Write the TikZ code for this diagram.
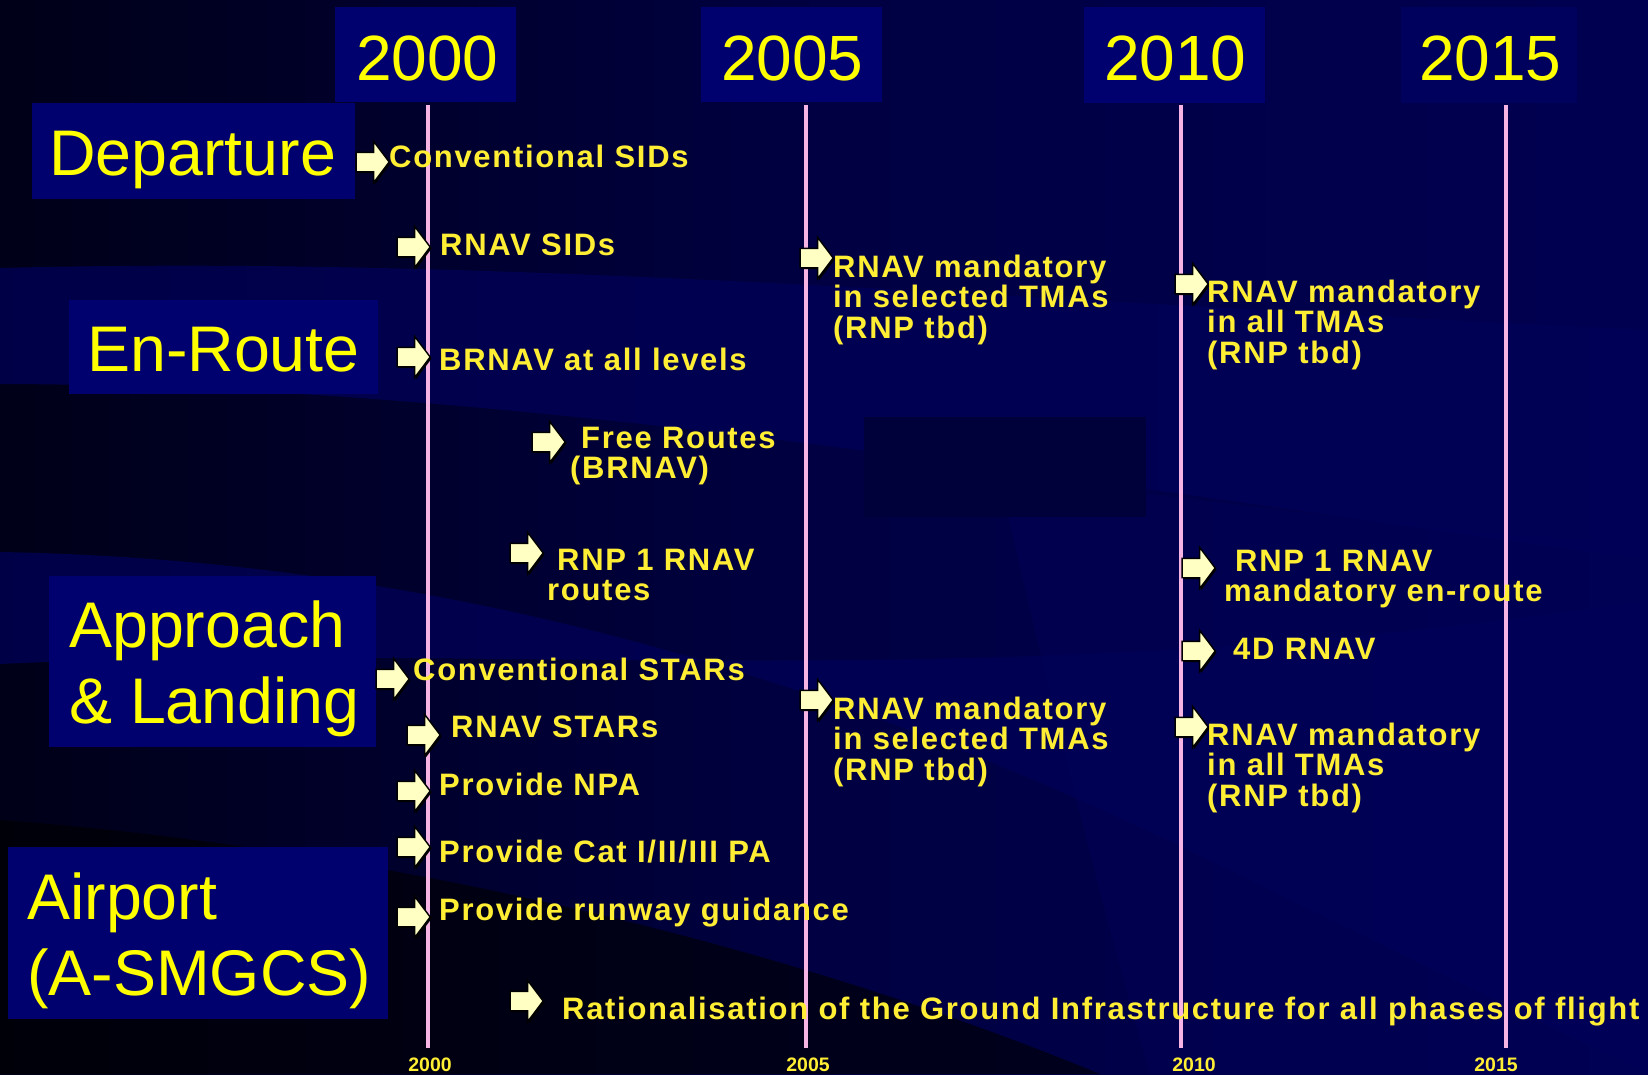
\documentclass[tikz,border=0pt]{standalone}
\usepackage{fontspec}
\setmainfont{Liberation Sans}
\newfontfamily\itemfont[LetterSpace=5.5]{Liberation Sans}
\usetikzlibrary{shapes.arrows,shadows}
\definecolor{boxnavy}{RGB}{0,0,110}
\definecolor{bandnavy}{RGB}{0,0,88}
\definecolor{darkrect}{RGB}{0,0,58}
\definecolor{itemyellow}{RGB}{255,238,51}
\definecolor{titleyellow}{RGB}{255,255,0}
\definecolor{linepink}{RGB}{245,180,228}
\definecolor{arrowfill}{RGB}{255,255,196}
\pgfdeclarehorizontalshading{bgshade}{100bp}{rgb(0bp)=(0,0,0.03); rgb(20bp)=(0,0,0.06); rgb(50bp)=(0,0,0.26); rgb(100bp)=(0,0,0.38)}
\newcommand{\mline}[1]{\vtop{\halign{##\hfil\cr#1\crcr}}}
\begin{document}
\begin{tikzpicture}[x=1pt,y=-1pt,
  catbox/.style={fill=boxnavy,draw=none,inner sep=0pt,anchor=north west},
  cattext/.style={text=titleyellow,font=\fontsize{64.5}{76}\selectfont,anchor=base west,inner sep=0pt},
  yeartext/.style={text=titleyellow,font=\fontsize{64}{70}\selectfont,anchor=base west,inner sep=0pt},
  smallyear/.style={text=itemyellow,font=\bfseries\fontsize{19.5}{20}\selectfont,anchor=base,inner sep=0pt},
  itemtext/.style={text=itemyellow,font=\itemfont\bfseries\fontsize{31}{30.5}\selectfont,anchor=base west,inner sep=0pt},
  itemarrow/.style={single arrow,draw=black,line width=1.4pt,fill=arrowfill,
     text height=18pt,text depth=0pt,text width=0pt,
     minimum height=33pt,single arrow head extend=11pt,
     single arrow tip angle=106,inner sep=0pt,
     drop shadow={shadow xshift=1.5pt,shadow yshift=-1.5pt,fill=black,opacity=1}},
  yearline/.style={draw=linepink,line width=3.5pt}]
\useasboundingbox (0,0) rectangle (1648,1074);
% background
\shade[shading=bgshade] (0,0) rectangle (1648,1074);
\fill[bandnavy,opacity=0.75] (0,268) .. controls (500,255) and (1000,300) .. (1648,330)
   -- (1648,560) .. controls (1000,470) and (500,385) .. (0,384) -- cycle;
\fill[bandnavy,opacity=0.75] (0,552) .. controls (450,560) and (850,680) .. (1250,880)
   -- (1648,1074) -- (1648,600) .. controls (1000,700) and (500,640) .. (0,664) -- cycle;
\fill[bandnavy,opacity=0.45] (1000,480) .. controls (1250,500) and (1450,540) .. (1648,540) -- (1648,1074) -- (1150,1074) .. controls (1100,900) and (1050,700) .. cycle;
\fill[black,opacity=0.6] (0,820) .. controls (400,850) and (800,950) .. (1100,1074) -- (0,1074) -- cycle;
\fill[darkrect] (864,417) rectangle (1146,517);
% year boxes
\node[catbox,minimum width=181pt,minimum height=95pt] (y00box) at (335,7) {};
\node[catbox,minimum width=181pt,minimum height=95pt] (y05box) at (701,7) {};
\node[catbox,minimum width=181pt,minimum height=96pt] (y10box) at (1084,7) {};
\node[catbox,minimum width=176pt,minimum height=96pt,fill=boxnavy!85!black] (y15box) at (1401,7) {};
\node[yeartext] (y00) at (356,80) {2000};
\node[yeartext] (y05) at (721,80) {2005};
\node[yeartext] (y10) at (1104,80) {2010};
\node[yeartext] (y15) at (1419,80) {2015};
% year lines
\coordinate (l00t) at (428,105); \coordinate (l00b) at (428,1048);
\coordinate (l05t) at (806,105); \coordinate (l05b) at (806,1048);
\coordinate (l10t) at (1181,105); \coordinate (l10b) at (1181,1048);
\coordinate (l15t) at (1506,105); \coordinate (l15b) at (1506,1048);
\draw[yearline] (l00t) -- (l00b);
\draw[yearline] (l05t) -- (l05b);
\draw[yearline] (l10t) -- (l10b);
\draw[yearline] (l15t) -- (l15b);
\node[smallyear] (s00) at (430,1071) {2000};
\node[smallyear] (s05) at (808,1071) {2005};
\node[smallyear] (s10) at (1194,1071) {2010};
\node[smallyear] (s15) at (1496,1071) {2015};
% category boxes
\node[catbox,minimum width=323pt,minimum height=96pt] (depbox) at (32,103) {};
\node[catbox,minimum width=309pt,minimum height=94pt] (enrbox) at (69,300) {};
\node[catbox,minimum width=327pt,minimum height=171pt] (appbox) at (49,576) {};
\node[catbox,minimum width=380pt,minimum height=172pt] (aptbox) at (8,847) {};
\node[cattext] (dep) at (49,175) {Departure};
\node[cattext] (enr) at (87,371) {En-Route};
\node[cattext] (app) at (69,647) {\mline{Approach\cr \& Landing}};
\node[cattext] (apt) at (27,919) {\mline{Airport\cr (A-SMGCS)}};
% items
\node[itemarrow] (a1) at (369,162) {};
\node[itemtext] (t1) at (389,167) {Conventional SIDs};
\node[itemarrow] (a2) at (410,247) {};
\node[itemtext] (t2) at (440,255) {RNAV SIDs};
\node[itemarrow] (a3) at (813,258) {};
\node[itemtext] (t3) at (833,277) {\mline{RNAV mandatory\cr in selected TMAs\cr (RNP tbd)}};
\node[itemarrow] (a4) at (1188,284) {};
\node[itemtext] (t4) at (1207,302) {\mline{RNAV mandatory\cr in all TMAs\cr (RNP tbd)}};
\node[itemarrow] (a5) at (410,357) {};
\node[itemtext] (t5) at (439,370) {BRNAV at all levels};
\node[itemarrow] (a6) at (545,442) {};
\node[itemtext] (t6) at (570,448) {\mline{\kern11pt Free Routes\cr (BRNAV)}};
\node[itemarrow] (a7) at (523,553) {};
\node[itemtext] (t7) at (547,570) {\mline{\kern10pt RNP 1 RNAV\cr routes}};
\node[itemarrow] (a8) at (1195,568) {};
\node[itemtext] (t8) at (1224,571) {\mline{\kern11pt RNP 1 RNAV\cr mandatory en-route}};
\node[itemarrow] (a9) at (1195,651) {};
\node[itemtext] (t9) at (1233,659) {4D RNAV};
\node[itemarrow] (a10) at (389,679) {};
\node[itemtext] (t10) at (413,680) {Conventional STARs};
\node[itemarrow] (a11) at (420,735) {};
\node[itemtext] (t11) at (451,737) {RNAV STARs};
\node[itemarrow] (a12) at (813,700) {};
\node[itemtext] (t12) at (833,719) {\mline{RNAV mandatory\cr in selected TMAs\cr (RNP tbd)}};
\node[itemarrow] (a13) at (1188,727) {};
\node[itemtext] (t13) at (1207,745) {\mline{RNAV mandatory\cr in all TMAs\cr (RNP tbd)}};
\node[itemarrow] (a14) at (410,791) {};
\node[itemtext] (t14) at (439,795) {Provide NPA};
\node[itemarrow] (a15) at (410,847) {};
\node[itemtext] (t15) at (439,862) {Provide Cat I/II/III PA};
\node[itemarrow] (a16) at (410,917) {};
\node[itemtext] (t16) at (439,920) {Provide runway guidance};
\node[itemarrow] (a17) at (523,1001) {};
\node[itemtext] (t17) at (562,1019) {Rationalisation of the Ground Infrastructure for all phases of flight};
\end{tikzpicture}
\end{document}
